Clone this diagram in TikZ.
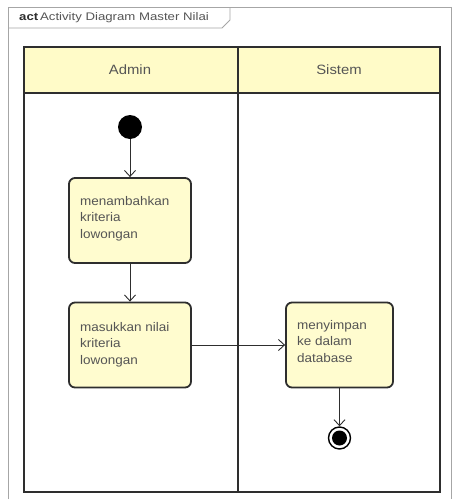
\documentclass[tikz,border=0pt]{standalone}
\usepackage{fontspec}
\setmainfont{Liberation Sans}
\newfontfamily\labelfont[FakeStretch=1.08]{Liberation Sans}
\newfontfamily\headfont[FakeStretch=1.1]{Liberation Sans}
\newfontfamily\tabfont[FakeStretch=1.2]{Liberation Sans}
\usetikzlibrary{arrows.meta}
\definecolor{laneyellow}{HTML}{FFFBC8}
\definecolor{actyellow}{HTML}{FFFCCF}
\definecolor{ink}{HTML}{2E2E2E}
\definecolor{textgray}{HTML}{555555}
\begin{document}
\begin{tikzpicture}[x=1pt,y=-1pt,
  lane/.style={draw=ink,line width=1.7pt},
  action/.style={draw=ink,line width=1.8pt,fill=actyellow,rounded corners=6pt,
    inner sep=0pt,minimum height=85pt},
  acttext/.style={text=textgray,align=left,anchor=north west,inner sep=0pt,
    font=\labelfont\fontsize{12.5}{16.5}\selectfont},
  lanehead/.style={text=textgray,font=\headfont\fontsize{13.5}{15}\selectfont},
  flow/.style={draw=ink,line width=0.9pt,-{Straight Barb[length=6pt,width=11pt,line width=0.9pt]}}]
\useasboundingbox (0,0) rectangle (455,501);
\fill[white] (0,0) rectangle (455,501);

% diagram frame with its name tab
\draw[draw=gray!70,line width=0.9pt] (8,499) -- (8,7) -- (451,7) -- (451,499);
\draw[draw=gray!70,line width=0.9pt] (8,28) -- (222,28) -- (230,20) -- (230,7);
\node[anchor=west,inner sep=0pt,text=textgray,font=\tabfont\fontsize{11}{12}\selectfont]
  (title) at (19,17.5) {\textbf{\color{ink}act}\,Activity Diagram Master Nilai};

% swimlanes
\fill[laneyellow] (24,47) rectangle (440,93);
\draw[lane] (24,47) rectangle (440,492);
\draw[lane] (24,93) -- (440,93);
\draw[lane] (238,47) -- (238,492);
\node[lanehead] (admin) at (130,70) {Admin};
\node[lanehead] (sistem) at (339,70) {Sistem};

% initial node
\node[circle,fill=black,inner sep=0pt,minimum size=24pt] (start) at (130,127) {};

% actions
\node[action,minimum width=122pt] (a1) at (130,220.5) {};
\node[acttext] (t1) at (80,196) {menambahkan\\kriteria\\lowongan};

\node[action,minimum width=122pt] (a2) at (130,345) {};
\node[acttext] (t2) at (80,322) {masukkan nilai\\kriteria\\lowongan};

\node[action,minimum width=107pt] (a3) at (339.5,345) {};
\node[acttext] (t3) at (297,320) {menyimpan\\ke dalam\\database};

% final node
\node[circle,draw=black,line width=1.4pt,fill=white,inner sep=0pt,minimum size=22pt] (end) at (339.5,438) {};
\fill[black] (end.center) circle (7.5pt);

% control flows
\draw[flow] (start) -- (a1);
\draw[flow] (a1) -- (a2);
\draw[flow] (a2) -- (a3);
\draw[flow] (a3) -- (end);
\end{tikzpicture}
\end{document}
